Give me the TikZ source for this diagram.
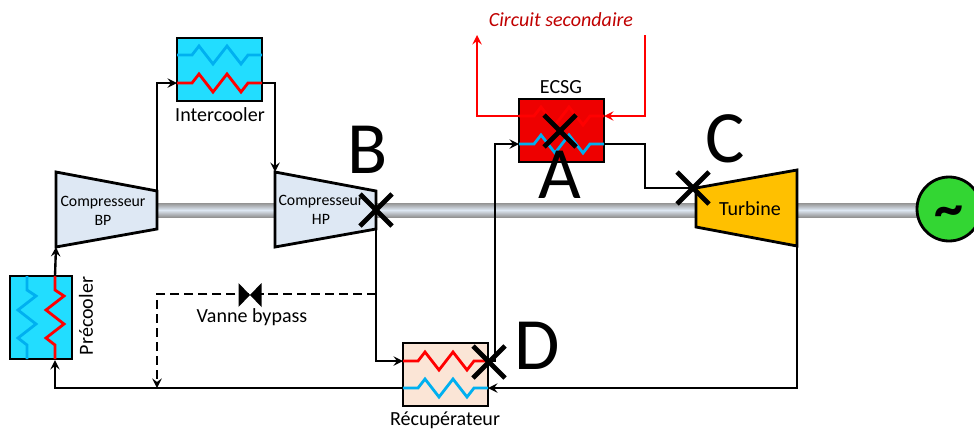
\documentclass[tikz,border=0pt]{standalone}
\usepackage{fontspec}
\setmainfont{Carlito}
\definecolor{bleuEch}{HTML}{22DDFF}
\definecolor{bleuTube}{HTML}{00B0F0}
\definecolor{bleuComp}{HTML}{DEE8F4}
\definecolor{rougeGV}{HTML}{EE0000}
\definecolor{rougeTxt}{HTML}{C00000}
\definecolor{orTurb}{HTML}{FFC000}
\definecolor{vertGen}{HTML}{33D633}
\definecolor{beigeRec}{HTML}{FBE5D6}
\tikzset{
	ligne/.style={line width=1.35pt},
	bloc/.style={draw=black, line width=1.6pt},
	tube/.style={line width=1.6pt, line join=miter},
	croix/.style={line width=2.8pt, line cap=butt},
	lab/.style={inner sep=0pt, font=\fontsize{11.4}{13}\selectfont},
	petit/.style={inner sep=0pt, align=center, font=\fontsize{9}{10.4}\selectfont},
	lettre/.style={inner sep=0pt, font=\fontsize{42}{46}\selectfont},
	zigzag/.pic={\draw[tube] (0,0) -- (15,0) -- (22,-9) -- (36,9) -- (50,-9) -- (64,9) -- (71,0) -- (85,0);}
}
\begin{document}
\begin{tikzpicture}[x=0.2mm, y=-0.2mm, >=stealth, line join=miter]
	\useasboundingbox (0,0) rectangle (974,429);
	% 1. Arbre
	\shade[top color=gray!85, bottom color=gray!85, middle color=bleuComp] (157,203) rectangle (920,217);
	% 2. Machines
	\coordinate (BPa) at (56,172);
	\coordinate (BPb) at (157,191);
	\coordinate (BPc) at (157,229);
	\coordinate (BPd) at (56,247);
	\coordinate (HPa) at (275,172);
	\coordinate (HPb) at (376,191);
	\coordinate (HPc) at (376,229);
	\coordinate (HPd) at (275,247);
	\coordinate (Ta) at (696,188);
	\coordinate (Tb) at (797,170);
	\coordinate (Tc) at (797,246);
	\coordinate (Td) at (696,227);
	\draw[bloc, fill=bleuComp] (BPa) -- (BPb) -- (BPc) -- (BPd) -- cycle;
	\draw[bloc, fill=bleuComp] (HPa) -- (HPb) -- (HPc) -- (HPd) -- cycle;
	\draw[bloc, fill=orTurb] (Ta) -- (Tb) -- (Tc) -- (Td) -- cycle;
	\draw[bloc, fill=vertGen] (949,209) circle (32);
	\node[petit] (nBP) at (103,211) {Compresseur\\BP};
	\node[petit] (nHP) at (321,210) {Compresseur\\HP};
	\node[lab] (nT) at (750,209) {Turbine};
	\node[inner sep=0pt, font=\fontsize{33}{33}\selectfont\bfseries] (nG) at (949,217) {\textasciitilde};
	% 3. Echangeurs
	\draw[bloc, fill=bleuEch] (177,38) rectangle (262,101);
	\draw[bloc, fill=rougeGV] (519,99) rectangle (604,162);
	\draw[bloc, fill=beigeRec] (403,343) rectangle (488,406);
	\draw[bloc, fill=bleuEch] (10,276) rectangle (72,359);
	\foreach \x/\y/\c in {177/55/bleuTube, 177/83/red, 519/116/red, 519/144/bleuTube, 403/361/red, 403/388/bleuTube} {
		\pic[\c] at (\x,\y) {zigzag};
	}
	\foreach \x/\c in {27/bleuTube, 55/red} {
		\draw[tube, \c] (\x,276) -- (\x,290) -- (\x+9,296) -- (\x-9,310) -- (\x+9,324) -- (\x-9,338) -- (\x,345) -- (\x,359);
	}
	\node[lab] (nIC) at (220,115) {Intercooler};
	\node[lab] (nGV) at (561,87) {ECSG};
	\node[lab] (nRec) at (445,420) {Récupérateur};
	\node[lab, rotate=90] (nPre) at (86,316) {Précooler};
	\node[lab] (nVan) at (252,317) {Vanne bypass};
	\node[lab, text=rougeTxt, font=\fontsize{11.4}{13}\selectfont\itshape] (nCir) at (561,20) {Circuit secondaire};
	% 4. Liaisons
	\coordinate (ICe) at (177,83);
	\coordinate (ICs) at (262,83);
	\coordinate (PCh) at (55,276);
	\coordinate (PCb) at (55,360);
	\coordinate (REe) at (403,361);
	\coordinate (REs) at (488,361);
	\coordinate (REf) at (488,388);
	\coordinate (REg) at (403,388);
	\coordinate (GVe) at (519,144);
	\coordinate (GVs) at (604,144);
	\coordinate (GVr) at (604,116);
	\coordinate (GVq) at (519,116);
	\coordinate (CSa) at (477,35);
	\coordinate (CSb) at (645,35);
	\coordinate (Bp) at (157,388);
	\coordinate (Bq) at (376,294);
	\draw[->, ligne] (BPb) |- (ICe);
	\draw[->, ligne] (ICs) -| (HPa);
	\draw[->, ligne] (PCh) -- (BPd);
	\draw[->, ligne] (HPc) |- (REe);
	\draw[->, ligne] (REs) -- (495,361) |- (GVe);
	\draw[ligne] (GVs) -- (645,144) |- (Ta);
	\draw[->, ligne] (Tc) |- (REf);
	\draw[->, ligne] (REg) -| (PCb);
	\draw[->, ligne, dashed, dash pattern=on 5.2pt off 2.8pt] (Bq) -| (Bp);
	\draw[->, ligne, red] (GVq) -| (CSa);
	\draw[->, ligne, red] (CSb) |- (GVr);
	% 5. Vanne
	\fill (238.5,283) -- (250,295) -- (238.5,307) -- cycle;
	\fill (261.5,283) -- (250,295) -- (261.5,307) -- cycle;
	% 6. Points
	\foreach \x/\y in {376/210, 560/131, 693/188, 489/362} {
		\draw[croix] (\x-16,\y-16) -- (\x+16,\y+16);
		\draw[croix] (\x-16,\y+16) -- (\x+16,\y-16);
	}
	\node[lettre] (ptB) at (368,150) {B};
	\node[lettre] (ptA) at (560,175) {A};
	\node[lettre] (ptC) at (725,139) {C};
	\node[lettre] (ptD) at (537,346) {D};
\end{tikzpicture}
\end{document}
